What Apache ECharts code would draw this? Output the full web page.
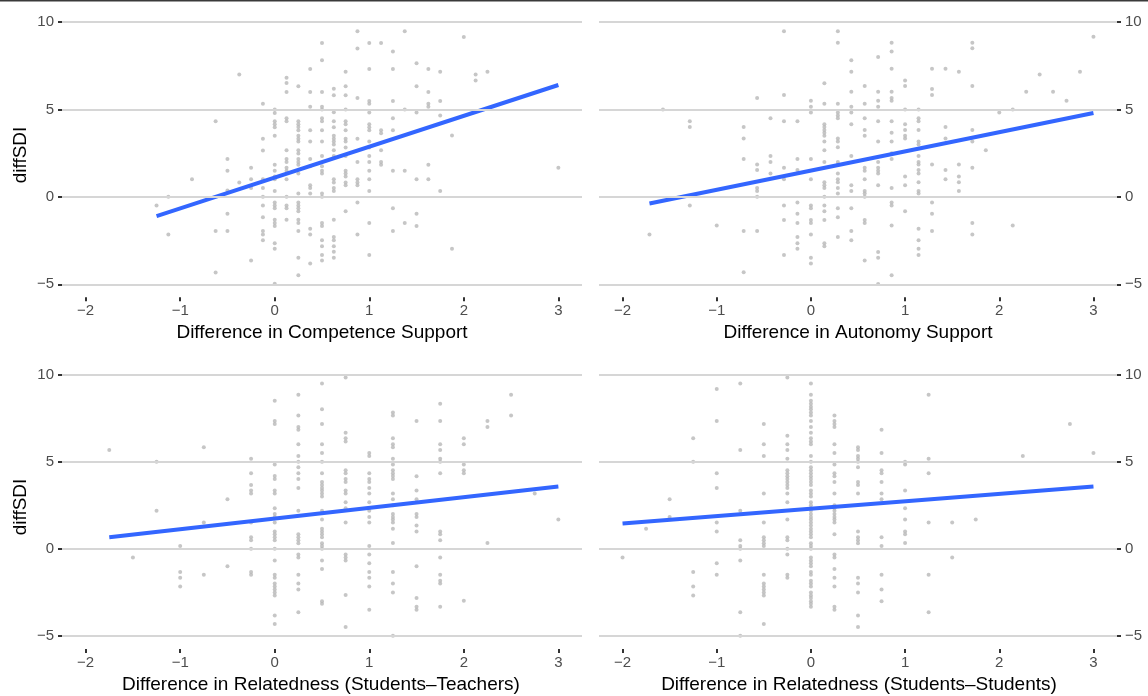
<!DOCTYPE html>
<html>
<head>
<meta charset="utf-8">
<title>diffSDI scatter panels</title>
<script src="https://cdn.jsdelivr.net/npm/echarts@6/dist/echarts.min.js"></script>
<style>
  html, body { margin: 0; padding: 0; background: #ffffff; }
  #chart { width: 1148px; height: 696px; }
</style>
</head>
<body>
<div id="chart"></div>
<script>
// Axis ticks shared by all four panels
const xTicks = [-2, -1, 0, 1, 2, 3];
const yTicks = [-5, 0, 5, 10];
const yTitle = 'diffSDI';
const panelTitles = [
  'Difference in Competence Support',
  'Difference in Autonomy Support',
  'Difference in Relatedness (Students\u2013Teachers)',
  'Difference in Relatedness (Students\u2013Students)'
];

// Observations grouped by x value: [x, [diffSDI values]]
const competence = [
  [-1.25, [-0.5]],
  [-1.125, [0, -2.15]],
  [-0.875, [1.0]],
  [-0.625, [4.33, -1.96, -4.33]],
  [-0.5, [2.17, 1.49, 0.36, -0.97, -1.96]],
  [-0.375, [7.0, 0.82]],
  [-0.25, [1.66, 1.0, 0.5, -3.64]],
  [-0.125, [5.32, 3.33, 2.65, 1.0, 0.5, 0, -0.5, -1.16, -1.96, -2.15, -2.48]],
  [0, [5.0, 4.8, 4.33, 4.15, 3.98, 3.49, 1.83, 1.49, 1.16, 1.0, 0.34, -0.32, -0.5, -0.65, -1.31, -1.49, -1.66, -2.65, -2.97, -4.97]],
  [0.125, [6.82, 6.52, 6.0, 4.5, 4.33, 2.67, 2.17, 2.0, 1.66, 1.49, 1.0, 0, -0.5, -0.65, -1.31]],
  [0.25, [6.33, 4.33, 4.15, 4.0, 3.81, 3.49, 3.32, 3.16, 2.67, 2.48, 2.17, 2.0, 1.83, 1.33, 0.19, -0.32, -0.5, -0.65, -0.82, -1.31, -1.49, -1.96, -3.49, -4.48]],
  [0.375, [7.32, 6.0, 5.15, 3.81, 3.16, 2.17, 1.75, 0.67, 0.5, 0.19, -1.83, -2.15, -3.81]],
  [0.5, [8.8, 7.81, 6.0, 5.15, 5.0, 4.5, 4.33, 3.81, 3.16, 2.34, 1.75, 1.49, 1.33, 0.19, 0, -1.49, -1.66, -2.48, -2.82, -3.32, -3.64]],
  [0.625, [6.18, 5.81, 4.84, 4.33, 3.98, 3.49, 3.32, 3.16, 2.99, 2.67, 2.34, 1.0, 0.82, 0.5, 0.34, -1.31, -2.3, -2.48, -2.82, -3.14, -3.49]],
  [0.75, [7.15, 6.33, 5.81, 5.0, 4.33, 4.15, 3.81, 3.32, 3.16, 2.82, 2.34, 1.49, 1.33, 1.16, 0.82, 0.67, -0.82]],
  [0.875, [9.47, 8.48, 5.66, 3.33, 2.0, 1.0, 0.82, 0.67, -0.32, -2.15]],
  [1, [8.8, 7.32, 5.49, 5.32, 4.82, 4.15, 3.98, 3.81, 3.16, 2.82, 2.34, 2.0, 1.49, 1.0, 0.34, -1.49, -3.32]],
  [1.125, [8.8, 3.81, 3.64, 2.67, 2.0, 1.83]],
  [1.25, [8.31, 7.32, 5.49, 4.5, 3.81, 1.49, -0.65, -1.96]],
  [1.375, [9.47, 5.0, 1.49, -1.49]],
  [1.5, [7.64, 6.33, 4.82, 1.0, -0.97, -1.66]],
  [1.625, [7.32, 6.0, 5.32, 5.15, 1.83, 1.0]],
  [1.75, [7.15, 5.49, 4.65, 0.34]],
  [1.875, [3.51, -2.97]],
  [2, [9.15]],
  [2.125, [7.0, 6.65]],
  [2.25, [7.15]],
  [3, [1.66]]
];

const autonomy = [
  [-1.714, [-2.15]],
  [-1.571, [5.0]],
  [-1.286, [4.33, 4.0, -0.5]],
  [-1, [-1.64]],
  [-0.714, [4.0, 3.34, 2.17, -1.96, -4.31]],
  [-0.571, [5.66, 1.85, 1.53, 0.5, 0.34, 0, -1.96]],
  [-0.429, [4.5, 2.34, 2.0, 1.33]],
  [-0.286, [9.48, 5.82, 4.33, 1.66, 1.0, -0.5, -1.32, -3.32]],
  [-0.143, [4.33, 2.17, 1.53, -0.32, -0.97, -1.49, -2.3, -2.65, -2.97]],
  [0, [5.5, 5.15, 4.83, 2.17, 1.0, -0.5, -0.65, -1.32, -1.49, -2.15, -3.49, -3.81]],
  [0.143, [6.5, 5.32, 4.16, 4.0, 3.82, 3.66, 3.49, 3.17, 2.67, 2.0, 0.84, 0.67, 0.5, 0, -0.5, -0.82, -1.32, -2.65, -2.82]],
  [0.286, [9.48, 8.82, 5.32, 4.83, 4.66, 4.5, 3.34, 3.17, 2.84, 2.0, 1.85, 1.33, 1.0, 0.84, 0.5, 0.19, -0.65, -1.16, -2.3]],
  [0.429, [7.82, 7.16, 6.01, 5.15, 4.83, 4.16, 2.34, 0.67, 0.34, -0.65, -1.96, -2.48]],
  [0.571, [6.34, 5.32, 4.5, 3.82, 3.49, 1.66, 1.49, 1.0, 0.34, 0.19, 0, -1.32, -1.49, -3.64]],
  [0.714, [8.0, 6.01, 5.5, 5.15, 4.33, 3.17, 2.0, 1.66, 1.49, 1.33, 0.67, -3.15, -3.49, -4.98]],
  [0.857, [8.82, 8.32, 7.33, 6.01, 5.66, 5.5, 4.33, 3.66, 3.17, 2.5, 2.17, 0.5, -0.32, -0.5, -1.64, -4.48]],
  [1, [6.66, 6.34, 5.0, 4.16, 3.82, 3.49, 3.34, 1.16, 0.67, -0.82]],
  [1.143, [5.0, 4.5, 4.33, 3.82, 3.17, 3.0, 2.34, 2.0, 1.85, 1.53, 1.33, 0.84, 0.34, 0.19, -1.83, -2.48, -2.97, -3.32]],
  [1.286, [7.33, 6.17, 5.82, 1.85, -0.32, -0.97, -1.96]],
  [1.429, [7.33, 4.0, 3.34, 1.53, 1.0]],
  [1.571, [7.16, 1.85, 1.16, 0.84, 0.34]],
  [1.714, [8.82, 8.5, 6.34, 3.82, 3.17, 1.66, -1.49, -2.15]],
  [1.857, [2.67]],
  [2, [4.83]],
  [2.143, [5.0, -1.64]],
  [2.286, [6.01]],
  [2.429, [7.0]],
  [2.571, [6.01]],
  [2.714, [5.5]],
  [2.857, [7.16]],
  [3, [9.16]]
];

const relTeachers = [
  [-1.75, [5.67]],
  [-1.5, [-0.5]],
  [-1.25, [5.0, 2.18]],
  [-1, [0.17, -1.32, -1.66, -2.16]],
  [-0.75, [5.82, 1.51, -1.49]],
  [-0.5, [2.84, -0.99]],
  [-0.25, [5.17, 4.33, 3.66, 3.34, 3.17, 1.51, 0.67, 0.5, 0, -1.32, -1.49]],
  [0, [8.49, 7.33, 7.16, 4.83, 4.18, 4.0, 3.34, 3.17, 2.33, 2.0, 1.83, 1.51, 0.99, 0.84, 0.67, 0.5, 0, -0.67, -1.49, -1.66, -1.98, -2.16, -2.33, -2.5, -2.67, -3.82, -4.31]],
  [0.25, [8.84, 7.65, 6.98, 6.83, 5.99, 5.32, 5.0, 4.68, 4.33, 4.0, 3.49, 2.18, 0.84, 0.67, 0.5, 0.32, -0.32, -0.5, -1.49, -1.98, -2.33, -3.64]],
  [0.5, [9.48, 8.0, 7.16, 5.99, 5.5, 5.0, 4.33, 3.84, 3.66, 3.49, 3.34, 3.17, 3.0, 2.18, 1.68, 1.16, 0.99, 0.84, 0.67, 0.32, 0.17, 0, -0.67, -1.16, -3.0, -3.15]],
  [0.75, [9.83, 6.66, 6.34, 6.16, 4.5, 4.33, 4.0, 3.84, 3.34, 3.17, 2.67, 2.33, 1.51, -0.32, -0.5, -0.67, -2.65, -4.48]],
  [1, [5.5, 5.32, 4.33, 4.0, 3.84, 3.49, 3.17, 2.67, 2.18, 1.83, 1.51, 0.17, -0.32, -0.82, -1.32, -1.66, -2.16, -3.49]],
  [1.25, [7.82, 7.65, 6.34, 5.99, 5.82, 5.17, 4.83, 4.5, 4.33, 4.18, 4.0, 3.17, 2.84, 2.5, 2.0, 1.83, 1.68, 1.51, 1.16, 0.34, -1.32, -1.98, -2.5, -4.98]],
  [1.5, [7.33, 4.16, 3.34, 2.84, 2.0, 1.83, 1.34, 0.99, -0.99, -2.82, -3.32, -3.49]],
  [1.75, [8.32, 7.33, 5.99, 5.67, 5.17, 5.0, 4.33, 0.99, 0.84, 0.5, -0.5, -1.49, -1.83, -1.98, -3.32]],
  [2, [6.34, 5.99, 4.83, 4.5, 4.33, -2.98]],
  [2.25, [7.33, 6.98, 0.34]],
  [2.5, [8.84, 7.65]],
  [2.75, [3.17]],
  [3, [1.68]]
];

const relStudents = [
  [-2, [-0.5]],
  [-1.75, [1.16]],
  [-1.5, [2.84, 1.83]],
  [-1.25, [6.34, 5.0, -1.32, -2.16, -2.67]],
  [-1, [9.16, 7.33, 4.33, 3.49, 1.51, 0.99, -0.82, -1.49]],
  [-0.75, [9.48, 5.67, 2.18, 0.5, 0.17, 0, -0.67, -3.64, -4.98]],
  [-0.5, [7.16, 5.99, 5.32, 3.17, 1.51, 0.67, 0.5, 0.32, 0.17, -1.49, -1.98, -2.16, -2.33, -2.5, -2.67, -4.31]],
  [-0.25, [9.83, 6.49, 5.99, 5.67, 5.17, 4.5, 4.33, 4.16, 4.0, 3.84, 3.66, 3.49, 3.17, 2.67, 1.68, 0.67, 0.5, 0, -0.32, -1.49, -1.66]],
  [0, [9.48, 8.84, 8.49, 8.32, 8.15, 8.0, 7.82, 7.65, 7.33, 6.98, 6.66, 6.34, 6.16, 5.99, 5.32, 5.0, 4.68, 4.5, 4.33, 4.16, 4.0, 3.84, 3.66, 3.34, 3.17, 3.0, 2.67, 2.5, 2.33, 2.18, 2.0, 1.83, 1.68, 1.51, 1.34, 1.16, 0.99, 0.84, 0.67, 0.32, 0.17, 0, -0.5, -0.67, -0.82, -0.99, -1.32, -1.49, -1.83, -1.98, -2.16, -2.5, -2.67, -2.82, -3.0, -3.15, -3.32]],
  [0.25, [7.65, 7.33, 7.16, 6.98, 5.99, 5.5, 4.83, 4.33, 4.16, 3.84, 3.17, 2.5, 2.33, 2.18, 2.0, 1.83, 1.68, 1.51, 0.84, -0.32, -0.5, -1.16, -1.66, -2.16, -3.32, -3.49]],
  [0.5, [5.82, 5.67, 5.32, 5.17, 5.0, 4.68, 3.84, 3.66, 3.17, 0.99, 0.67, 0.5, 0.32, -1.66, -1.98, -2.5, -3.82, -4.48]],
  [0.75, [6.83, 5.5, 4.5, 4.33, 3.84, 3.17, 2.84, 0.67, 0.17, -1.49, -2.33, -3.0]],
  [1, [5.0, 4.83, 3.34, 2.33, 1.68, 0.99, 0.84, 0.34]],
  [1.25, [8.84, 5.17, 4.33, 1.51, -1.49, -3.64]],
  [1.5, [1.51, -0.5]],
  [1.75, [1.68]],
  [2.25, [5.32]],
  [2.75, [7.16]],
  [3, [5.5]]
];

// Fitted least-squares lines: [[xStart, yStart], [xEnd, yEnd]]
const fitCompetence = [[-1.25, -1.1], [3, 6.4]];
const fitAutonomy = [[-1.714, -0.38], [3, 4.8]];
const fitRelTeachers = [[-1.75, 0.66], [3, 3.57]];
const fitRelStudents = [[-2, 1.46], [3, 3.57]];

const panelData = [competence, autonomy, relTeachers, relStudents];
const panelFits = [fitCompetence, fitAutonomy, fitRelTeachers, fitRelStudents];

// ---- layout & styles ----
const FONT = '"Liberation Sans", Arial, Helvetica, sans-serif';
const TICK_COLOR = '#333333';
const LABEL_COLOR = '#4d4d4d';
const GRID_COLOR = '#d6d6d6';
const POINT_COLOR = '#b8b8b8';
const LINE_COLOR = '#3366ff';

const grids = [
  { left: 62, top: 12.6, width: 520, height: 284.6 },
  { left: 599, top: 12.6, width: 518, height: 284.6 },
  { left: 62, top: 365, width: 520, height: 284 },
  { left: 599, top: 365, width: 518, height: 284 }
];

const fmt = v => String(v).replace('-', '\u2212');

function flatten(cols) {
  const out = [];
  cols.forEach(([x, ys]) => ys.forEach(y => out.push([x, y])));
  return out;
}

const xAxes = grids.map((g, i) => ({
  type: 'value',
  gridIndex: i,
  position: 'bottom',
  min: -2.25,
  max: 3.25,
  axisLine: { show: false, onZero: false },
  axisTick: {
    show: true, length: 4, customValues: xTicks,
    lineStyle: { color: TICK_COLOR, width: 2 }
  },
  axisLabel: {
    customValues: xTicks, formatter: fmt, margin: 6,
    color: LABEL_COLOR, fontSize: 15, fontFamily: FONT
  },
  splitLine: { show: false }
}));

const yAxes = grids.map((g, i) => ({
  type: 'value',
  gridIndex: i,
  position: (i % 2 === 0) ? 'left' : 'right',
  min: -5.74,
  max: 10.54,
  axisLine: { show: false, onZero: false },
  axisTick: {
    show: true, length: 4, customValues: yTicks,
    lineStyle: { color: TICK_COLOR, width: 2 }
  },
  axisLabel: {
    customValues: yTicks, formatter: fmt, margin: 8,
    color: LABEL_COLOR, fontSize: 15, fontFamily: FONT
  },
  splitLine: { show: false }
}));

const series = [];
grids.forEach((g, i) => {
  // horizontal reference lines at each y tick
  series.push({
    type: 'line',
    xAxisIndex: i, yAxisIndex: i,
    data: [],
    silent: true,
    z: 1,
    markLine: {
      silent: true,
      symbol: ['none', 'none'],
      label: { show: false },
      lineStyle: { color: GRID_COLOR, width: 2, type: 'solid' },
      data: yTicks.map(v => ({ yAxis: v }))
    }
  });
  series.push({
    type: 'scatter',
    xAxisIndex: i, yAxisIndex: i,
    data: flatten(panelData[i]),
    symbol: 'circle',
    symbolSize: 4,
    itemStyle: { color: POINT_COLOR },
    z: 2,
    silent: true
  });
  series.push({
    type: 'line',
    xAxisIndex: i, yAxisIndex: i,
    data: panelFits[i],
    showSymbol: false,
    symbol: 'none',
    lineStyle: { color: LINE_COLOR, width: 4 },
    z: 3,
    silent: true
  });
});

const titleText = (text, x, y, rotate) => ({
  type: 'text',
  x: x, y: y,
  rotation: rotate ? Math.PI / 2 : 0,
  style: {
    text: text,
    fill: '#000000',
    font: '19px ' + FONT,
    align: 'center',
    verticalAlign: 'middle'
  }
});

const chart = echarts.init(document.getElementById('chart'), null, { renderer: 'canvas' });
chart.setOption({
  backgroundColor: '#ffffff',
  animation: false,
  grid: grids,
  xAxis: xAxes,
  yAxis: yAxes,
  series: series,
  graphic: [
    { type: 'rect', shape: { x: 0, y: 0, width: 1148, height: 1.5 }, style: { fill: '#3a3a3a' } },
    titleText(panelTitles[0], 322, 333),
    titleText(panelTitles[1], 858, 333),
    titleText(panelTitles[2], 321, 685),
    titleText(panelTitles[3], 859, 685),
    titleText(yTitle, 21, 155, true),
    titleText(yTitle, 21, 507, true)
  ]
});
</script>
</body>
</html>
